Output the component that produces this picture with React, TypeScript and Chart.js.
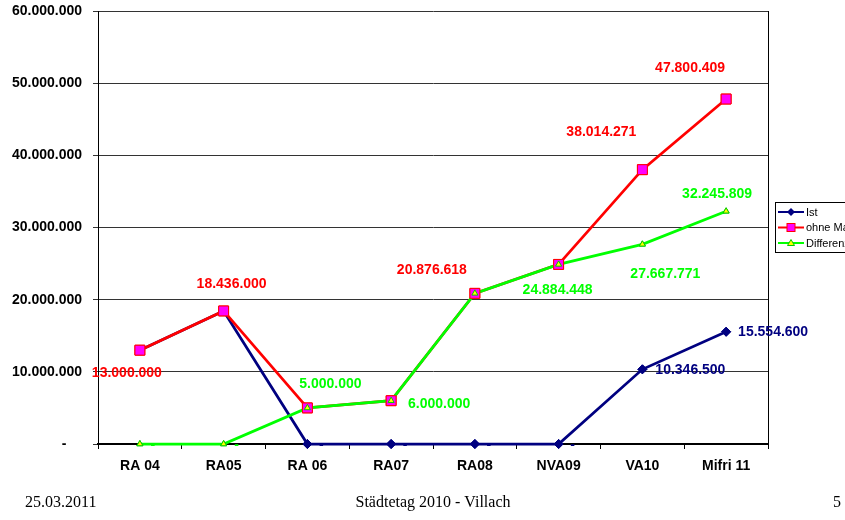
import React, { useEffect, useRef } from 'react';
import { Chart, registerables } from 'chart.js';

Chart.register(...registerables);

// ---- data ----
const categories = ['RA 04', 'RA05', 'RA 06', 'RA07', 'RA08', 'NVA09', 'VA10', 'Mifri 11'];
const seriesNames = ['Ist', 'ohne Maßnahmen', 'Differenz'];
const istValues = [13000000, 18436000, 0, 0, 0, 0, 10346500, 15554600];
const ohneValues = [13000000, 18436000, 5000000, 6000000, 20876618, 24884448, 38014271, 47800409];
const diffValues = [0, 0, 5000000, 6000000, 20876618, 24884448, 27667771, 32245809];
const yMin = 0;
const yMax = 60000000;
const yStep = 10000000;
const footerLeft = '25.03.2011';
const footerCenter = 'Städtetag 2010 - Villach';
const footerRight = '5';

// ---- label placement (styling, offsets from each point in px) ----
type Off = [number, number] | null;
const istLabelOffsets: Off[] = [null, null, [14, 1], [14, 1], [14, 1], [14, 1], [48, 1], [47, 0]];
const ohneLabelOffsets: Off[] = [[-13, 23], [8, -27], null, null, [-43, -23], null, [-41, -38], [-36, -31]];
const diffLabelOffsets: Off[] = [[13, 1], [13, 1], [23, -24], [48, 3], null, [-1, 26], [23, 30], [-9, -17]];

const NAVY = '#000080';
const RED = '#FF0000';
const MAGENTA = '#FF00FF';
const GREEN = '#00FF00';
const YELLOW = '#FFFF00';
const SANS = '"Liberation Sans", Arial, sans-serif';
const SERIF = '"Liberation Serif", "Times New Roman", serif';

function fmt(v: number): string {
  if (v === 0) return '-';
  return String(Math.round(v)).replace(/\B(?=(\d{3})+(?!\d))/g, '.');
}

const overlay = {
  id: 'overlay',
  afterDatasetsDraw(chart: any) {
    const ctx = chart.ctx as CanvasRenderingContext2D;
    const ca = chart.chartArea;
    ctx.save();
    // right frame line
    ctx.strokeStyle = '#000';
    ctx.lineWidth = 1;
    const rx = Math.round(ca.right) + 0.5;
    ctx.beginPath();
    ctx.moveTo(rx, ca.top);
    ctx.lineTo(rx, ca.bottom);
    ctx.stroke();
    // markers above all lines (Ist, ohne, Differenz)
    [0, 1, 2].forEach((i) => {
      chart.getDatasetMeta(i).data.forEach((p: any) => p.draw(ctx, { left: 0, top: 0, right: chart.width, bottom: chart.height }));
    });
    // data labels
    ctx.font = `bold 14px ${SANS}`;
    ctx.textAlign = 'center';
    ctx.textBaseline = 'middle';
    const specs: { ds: number; color: string; offs: Off[] }[] = [
      { ds: 0, color: NAVY, offs: istLabelOffsets },
      { ds: 1, color: RED, offs: ohneLabelOffsets },
      { ds: 2, color: GREEN, offs: diffLabelOffsets },
    ];
    specs.forEach(({ ds, color, offs }) => {
      const meta = chart.getDatasetMeta(ds);
      const values = chart.data.datasets[ds].data as number[];
      meta.data.forEach((p: any, i: number) => {
        const o = offs[i];
        if (!o) return;
        ctx.fillStyle = color;
        ctx.fillText(fmt(values[i]), p.x + o[0], p.y + o[1]);
      });
    });
    ctx.restore();
  },
  afterDraw(chart: any) {
    const ctx = chart.ctx as CanvasRenderingContext2D;
    ctx.save();
    // legend box (partly outside the canvas, as in the reference)
    const bx = 775.5, by = 202.5, bw = 120, bh = 50;
    ctx.fillStyle = '#fff';
    ctx.fillRect(bx, by, bw, bh);
    ctx.strokeStyle = '#000';
    ctx.lineWidth = 1;
    ctx.strokeRect(bx, by, bw, bh);
    const rows = [212, 227.5, 243];
    const colors = [NAVY, RED, GREEN];
    rows.forEach((ry, i) => {
      ctx.strokeStyle = colors[i];
      ctx.lineWidth = 2;
      ctx.beginPath();
      ctx.moveTo(778, ry);
      ctx.lineTo(804, ry);
      ctx.stroke();
      const cx = 791;
      ctx.lineWidth = 1;
      if (i === 0) {
        ctx.fillStyle = NAVY;
        ctx.beginPath();
        ctx.moveTo(cx, ry - 4);
        ctx.lineTo(cx + 4, ry);
        ctx.lineTo(cx, ry + 4);
        ctx.lineTo(cx - 4, ry);
        ctx.closePath();
        ctx.fill();
      } else if (i === 1) {
        ctx.fillStyle = MAGENTA;
        ctx.fillRect(cx - 4, ry - 4, 8, 8);
        ctx.strokeStyle = RED;
        ctx.strokeRect(cx - 4, ry - 4, 8, 8);
      } else {
        ctx.fillStyle = YELLOW;
        ctx.strokeStyle = '#00CC00';
        ctx.beginPath();
        ctx.moveTo(cx, ry - 3.5);
        ctx.lineTo(cx + 3.5, ry + 2.5);
        ctx.lineTo(cx - 3.5, ry + 2.5);
        ctx.closePath();
        ctx.fill();
        ctx.stroke();
      }
      ctx.fillStyle = '#000';
      ctx.font = `11px ${SANS}`;
      ctx.textAlign = 'left';
      ctx.textBaseline = 'middle';
      ctx.fillText(seriesNames[i], 806, ry + 0.5);
    });
    // footer
    ctx.fillStyle = '#000';
    ctx.font = `16px ${SERIF}`;
    ctx.textBaseline = 'middle';
    ctx.textAlign = 'left';
    ctx.fillText(footerLeft, 25, 503);
    ctx.textAlign = 'center';
    ctx.fillText(footerCenter, 433, 503);
    ctx.textAlign = 'right';
    ctx.fillText(footerRight, 841, 503);
    ctx.restore();
  },
};

export default function App() {
  const ref = useRef<HTMLCanvasElement | null>(null);
  useEffect(() => {
    if (!ref.current) return;
    const tickFont = { family: SANS, size: 14, weight: 'bold' as const };
    const chart = new Chart(ref.current, {
      type: 'line',
      data: {
        labels: categories,
        datasets: [
          {
            label: seriesNames[0],
            data: istValues,
            borderColor: NAVY,
            backgroundColor: NAVY,
            borderWidth: 2.75,
            pointStyle: 'rectRot',
            pointRadius: 4.5,
            pointBackgroundColor: NAVY,
            pointBorderColor: NAVY,
            pointBorderWidth: 1,
            order: 3,
            clip: false as any,
            tension: 0,
          },
          {
            label: seriesNames[1],
            data: ohneValues,
            borderColor: RED,
            backgroundColor: MAGENTA,
            borderWidth: 2.75,
            pointStyle: 'rect',
            pointRadius: 7,
            pointBackgroundColor: MAGENTA,
            pointBorderColor: RED,
            pointBorderWidth: 1,
            order: 2,
            clip: false as any,
            tension: 0,
          },
          {
            label: seriesNames[2],
            data: diffValues,
            borderColor: GREEN,
            backgroundColor: YELLOW,
            borderWidth: 2.75,
            pointStyle: 'triangle',
            pointRadius: 3.5,
            pointBackgroundColor: YELLOW,
            pointBorderColor: '#00CC00',
            pointBorderWidth: 1,
            order: 1,
            clip: false as any,
            tension: 0,
          },
        ],
      },
      options: {
        responsive: false,
        animation: false,
        events: [],
        layout: { padding: { top: 11, right: 77, left: 0, bottom: 0 } },
        plugins: {
          legend: { display: false },
          tooltip: { enabled: false },
          title: { display: false },
        },
        scales: {
          x: {
            type: 'category',
            offset: true,
            grid: {
              display: true,
              drawOnChartArea: false,
              drawTicks: true,
              tickLength: 5,
              offset: true,
              color: '#000',
            },
            border: { display: true, color: '#000', width: 2 },
            ticks: {
              font: tickFont,
              color: '#000',
              padding: 9,
              maxRotation: 0,
              autoSkip: false,
            },
            afterFit: (s: any) => {
              s.height = 76;
              s.paddingLeft = 0;
              s.paddingRight = 0;
            },
          },
          y: {
            min: yMin,
            max: yMax,
            ticks: {
              stepSize: yStep,
              font: tickFont,
              color: '#000',
              padding: 11,
              callback: (v: any) => (Number(v) === 0 ? '-    ' : fmt(Number(v))),
            },
            grid: { color: '#333', lineWidth: 1, tickLength: 5, drawTicks: true },
            border: { display: true, color: '#000', width: 1 },
            afterFit: (s: any) => {
              s.width = 98;
              s.paddingTop = 0;
              s.paddingBottom = 0;
            },
          },
        },
      },
      plugins: [overlay],
    });
    return () => chart.destroy();
  }, []);
  return (
    <canvas
      ref={ref}
      width={845}
      height={520}
      style={{ position: 'absolute', left: 0, top: 0, display: 'block', background: '#fff' }}
    />
  );
}
